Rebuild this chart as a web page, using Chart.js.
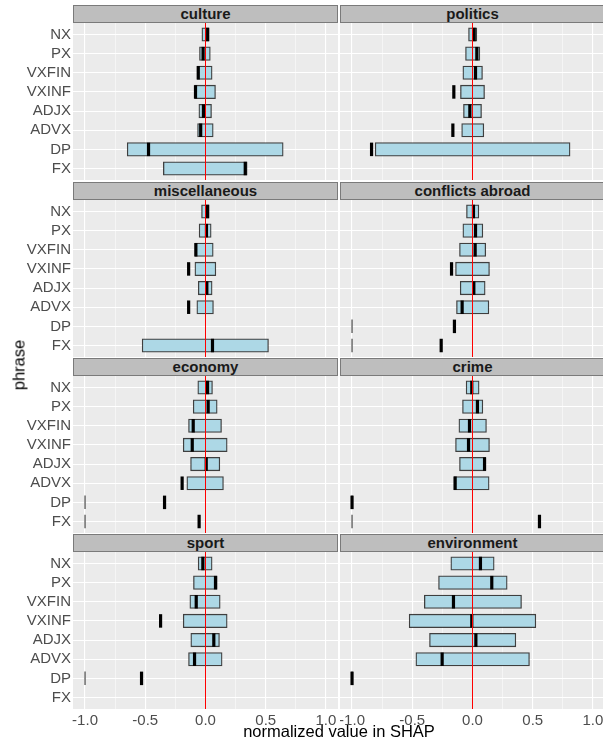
<!DOCTYPE html>
<html>
<head>
<meta charset="utf-8">
<script src="https://cdn.jsdelivr.net/npm/chart.js@4/dist/chart.umd.min.js"></script>
<style>
html,body{margin:0;padding:0;background:#fff;overflow:hidden;}
#wrap{position:relative;width:603px;height:745px;overflow:hidden;background:#fff;}
#wrap canvas{position:absolute;}
.strip{position:absolute;box-sizing:border-box;height:18px;background:#BEBEBE;border:1px solid #7a7a7a;
  font:bold 15px "Liberation Sans",Arial,sans-serif;color:#1a1a1a;text-align:center;line-height:16px;white-space:nowrap;overflow:hidden;}
.ytitle{position:absolute;left:19px;top:365px;transform:translate(-50%,-50%) rotate(-90deg);
  font:16.5px "Liberation Sans",Arial,sans-serif;color:#000;white-space:nowrap;}
.xtitle{position:absolute;left:339px;top:731px;transform:translate(-50%,-50%);
  font:16.5px "Liberation Sans",Arial,sans-serif;color:#000;white-space:nowrap;}
</style>
</head>
<body>
<div id="wrap"></div>
<script>
// ---------- data ----------
const categories = ['NX','PX','VXFIN','VXINF','ADJX','ADVX','DP','FX'];
const facets = ['culture','politics','miscellaneous','conflicts abroad','economy','crime','sport','environment'];
const xTicks = [-1, -0.75, -0.5, -0.25, 0, 0.25, 0.5, 0.75, 1];

const cultureLow     = [-0.03, -0.05, -0.07, -0.09, -0.055, -0.066, -0.65, -0.35];
const cultureHigh    = [0.028, 0.04, 0.055, 0.083, 0.05, 0.064, 0.645, 0.346];
const cultureMedian  = [0.018, -0.02, -0.06, -0.083, -0.017, -0.04, -0.473, 0.33];

const politicsLow    = [-0.033, -0.058, -0.08, -0.10, -0.075, -0.09, -0.808, null];
const politicsHigh   = [0.036, 0.061, 0.083, 0.10, 0.075, 0.094, 0.81, null];
const politicsMedian = [0.014, 0.036, 0.025, -0.155, -0.022, -0.163, -0.838, null];

const miscLow        = [-0.033, -0.053, -0.088, -0.088, -0.06, -0.072, null, -0.526];
const miscHigh       = [0.03, 0.047, 0.064, 0.086, 0.055, 0.066, null, 0.523];
const miscMedian     = [0.017, 0.008, -0.08, -0.14, 0.011, -0.14, null, 0.058];

const conflictsLow    = [-0.05, -0.08, -0.108, -0.141, -0.102, -0.133, -1, -1];
const conflictsHigh   = [0.053, 0.086, 0.11, 0.141, 0.105, 0.136, -1, -1];
const conflictsMedian = [0.008, 0.025, 0.022, -0.174, 0.011, -0.086, -0.15, -0.26];

const economyLow     = [-0.064, -0.102, -0.141, -0.185, -0.124, -0.155, -1, -1];
const economyHigh    = [0.058, 0.097, 0.133, 0.18, 0.119, 0.149, -1, -1];
const economyMedian  = [0.017, 0.022, -0.102, -0.11, 0.006, -0.194, -0.34, -0.053];

const crimeLow       = [-0.053, -0.083, -0.113, -0.141, -0.108, -0.155, -1, -1];
const crimeHigh      = [0.055, 0.086, 0.116, 0.141, 0.11, 0.138, -1, -1];
const crimeMedian    = [-0.006, 0.041, -0.025, -0.033, 0.1, -0.144, -1, 0.556];

const sportLow       = [-0.061, -0.1, -0.13, -0.185, -0.122, -0.141, -1, null];
const sportHigh      = [0.055, 0.097, 0.122, 0.18, 0.116, 0.138, -1, null];
const sportMedian    = [-0.022, 0.083, -0.077, -0.373, 0.069, -0.091, -0.531, null];

const environmentLow    = [-0.18, -0.282, -0.40, -0.526, -0.357, -0.47, -1, null];
const environmentHigh   = [0.18, 0.288, 0.407, 0.526, 0.36, 0.473, -1, null];
const environmentMedian = [0.066, 0.16, -0.158, -0.006, 0.028, -0.252, -1, null];

const facetData = [
  [cultureLow, cultureHigh, cultureMedian],
  [politicsLow, politicsHigh, politicsMedian],
  [miscLow, miscHigh, miscMedian],
  [conflictsLow, conflictsHigh, conflictsMedian],
  [economyLow, economyHigh, economyMedian],
  [crimeLow, crimeHigh, crimeMedian],
  [sportLow, sportHigh, sportMedian],
  [environmentLow, environmentHigh, environmentMedian]
];

// ---------- layout ----------
const panelTops = [23, 200, 376, 552];
const panelH = 157;
const axisH = 30;
const yAxisW = 73;
const panelW = 265;
const colLeft = [0, 340];
const FONT = '"Liberation Sans", Arial, sans-serif';

const isMajor = v => Math.abs(v * 2 - Math.round(v * 2)) < 1e-9;

const panelPlugin = {
  id: 'panelBg',
  beforeDraw(chart) {
    const {ctx, chartArea: a} = chart;
    ctx.save();
    ctx.fillStyle = '#EBEBEB';
    ctx.fillRect(a.left, a.top, a.right - a.left, a.bottom - a.top);
    ctx.restore();
  },
  afterDatasetsDraw(chart) {
    const {ctx, chartArea: a} = chart;
    const x = chart.scales.x.getPixelForValue(0);
    ctx.save();
    ctx.strokeStyle = '#FF0000';
    ctx.lineWidth = 1;
    ctx.beginPath();
    ctx.moveTo(x, a.top);
    ctx.lineTo(x, a.bottom);
    ctx.stroke();
    ctx.restore();
  }
};

const wrap = document.getElementById('wrap');

facets.forEach((name, f) => {
  const row = Math.floor(f / 2), col = f % 2;
  const bottomRow = row === 3;
  const [lo, hi, med] = facetData[f];

  const canvas = document.createElement('canvas');
  const w = col === 0 ? yAxisW + panelW : panelW;
  const h = panelH + (bottomRow ? axisH : 0);
  canvas.width = w; canvas.height = h;
  canvas.style.width = w + 'px'; canvas.style.height = h + 'px';
  canvas.style.left = colLeft[col] + 'px';
  canvas.style.top = panelTops[row] + 'px';
  wrap.appendChild(canvas);

  const strip = document.createElement('div');
  strip.className = 'strip';
  strip.textContent = name;
  strip.style.left = (col === 0 ? yAxisW : colLeft[col]) + 'px';
  strip.style.width = panelW + 'px';
  strip.style.top = (panelTops[row] - 18) + 'px';
  wrap.appendChild(strip);

  const boxes = [], thin = [], mids = [];
  categories.forEach((c, i) => {
    if (lo[i] !== null && hi[i] !== null) {
      if (lo[i] === hi[i]) thin.push({x: lo[i], y: i + 1});
      else boxes.push({x: [lo[i], hi[i]], y: i + 1});
    }
    if (med[i] !== null) mids.push({x: med[i], y: i + 1});
  });

  new Chart(canvas, {
    type: 'bar',
    data: {
      datasets: [
        {
          type: 'bar', indexAxis: 'y', data: boxes, order: 3,
          backgroundColor: '#ADD8E6', borderColor: 'rgba(20,20,20,0.8)', borderWidth: 1.3,
          borderSkipped: false, barThickness: 13.5
        },
        {
          type: 'scatter', data: thin, order: 2,
          pointStyle: 'line', rotation: 90, radius: 6.75, borderWidth: 1.3,
          borderColor: '#555555', backgroundColor: '#555555'
        },
        {
          type: 'scatter', data: mids, order: 1,
          pointStyle: 'line', rotation: 90, radius: 6.75, borderWidth: 3.2,
          borderColor: '#000000', backgroundColor: '#000000'
        }
      ]
    },
    options: {
      indexAxis: 'y',
      responsive: false,
      animation: false,
      events: [],
      layout: {padding: 0, autoPadding: false},
      plugins: {legend: {display: false}, tooltip: {enabled: false}, title: {display: false}},
      scales: {
        x: {
          type: 'linear', min: -1.1, max: 1.1, offset: false, beginAtZero: false, grace: 0,
          afterBuildTicks: s => { s.ticks = xTicks.map(v => ({value: v})); },
          afterFit: s => {
            s.height = bottomRow ? axisH : 0;
            s.paddingLeft = 0; s.paddingRight = 0; s.paddingTop = 0; s.paddingBottom = 0;
          },
          border: {display: false},
          grid: {
            offset: false,
            drawTicks: false,
            color: '#FFFFFF',
            lineWidth: ctx => (ctx.tick && !isMajor(ctx.tick.value) ? 0.5 : 1.1)
          },
          ticks: {
            display: bottomRow, autoSkip: false, maxRotation: 0, padding: 3,
            color: '#4D4D4D', font: {family: FONT, size: 15},
            callback: v => (isMajor(v) ? v.toFixed(1) : '')
          }
        },
        y: {
          type: 'linear', min: 0.4, max: 8.6, reverse: true, offset: false, beginAtZero: false, grace: 0,
          afterBuildTicks: s => { s.ticks = categories.map((c, i) => ({value: i + 1})); },
          afterFit: s => {
            s.width = col === 0 ? yAxisW : 0;
            s.paddingLeft = 0; s.paddingRight = 0; s.paddingTop = 0; s.paddingBottom = 0;
          },
          border: {display: false},
          grid: {offset: false, drawTicks: false, color: '#FFFFFF', lineWidth: 1.1},
          ticks: {
            display: col === 0, autoSkip: false, padding: 2,
            color: '#4D4D4D', font: {family: FONT, size: 15},
            callback: v => categories[Math.round(v) - 1] || ''
          }
        }
      }
    },
    plugins: [panelPlugin]
  });
});

const yt = document.createElement('div');
yt.className = 'ytitle'; yt.textContent = 'phrase';
wrap.appendChild(yt);
const xt = document.createElement('div');
xt.className = 'xtitle'; xt.textContent = 'normalized value in SHAP';
wrap.appendChild(xt);
</script>
</body>
</html>
